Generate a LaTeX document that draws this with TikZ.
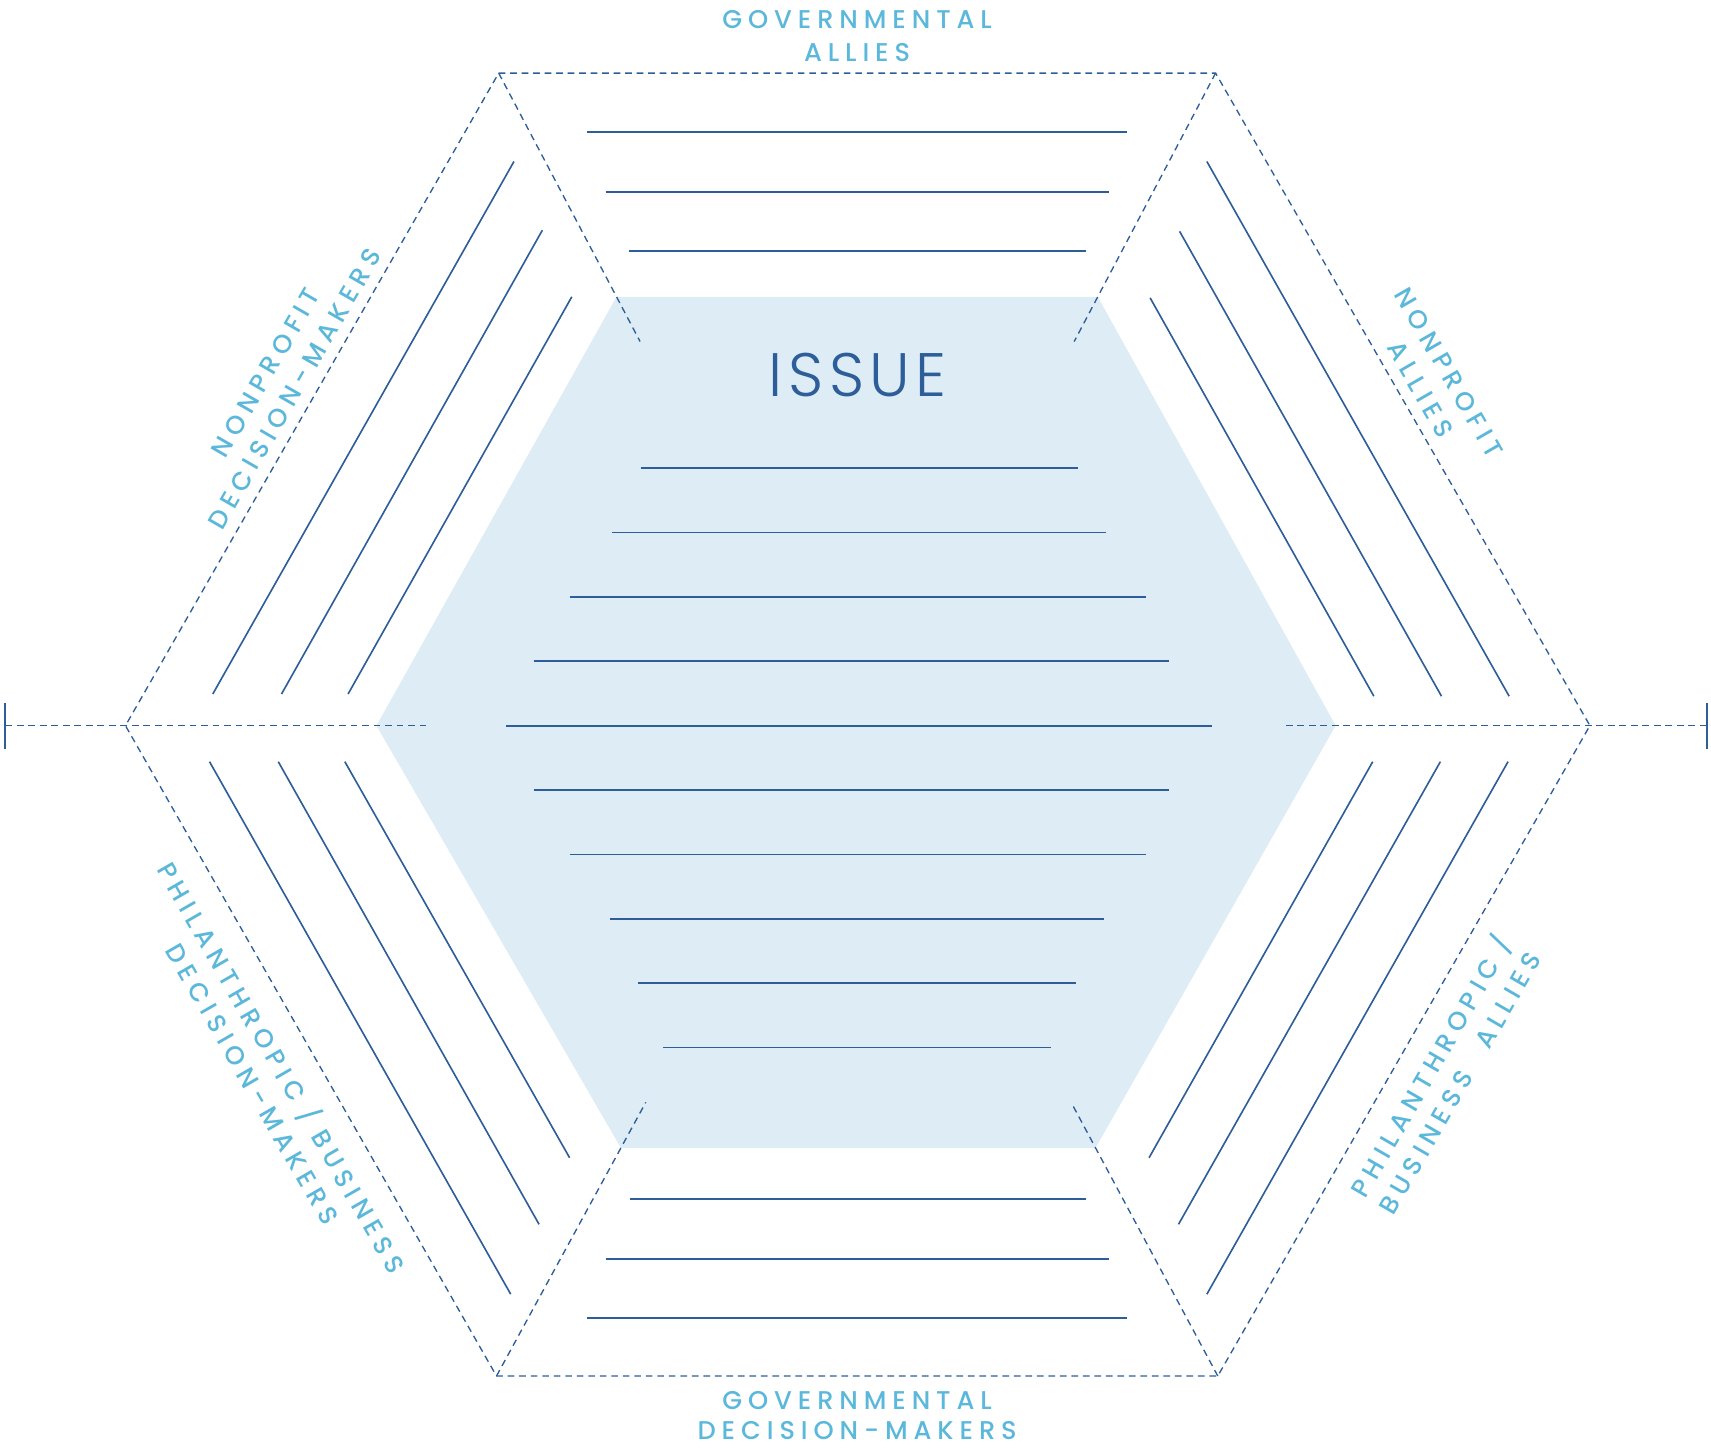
\documentclass[tikz,border=0pt]{standalone}
\usepackage{fontspec}
\usepackage{xcolor}
\usepackage{tikz}
\usetikzlibrary{calc}

\newfontfamily\groupfont{Poppins Medium}[LetterSpace=23]
\newfontfamily\issuefont{Poppins Light}[LetterSpace=9]
\definecolor{darkblue}{HTML}{2E5E9A}
\definecolor{labelblue}{HTML}{5BB8DA}
\definecolor{paleblue}{HTML}{DDECF5}

\begin{document}
\begin{tikzpicture}[x=0.02cm, y=-0.02cm,
    dashline/.style={darkblue, line width=0.7pt, dash pattern=on 3.5pt off 2.5pt},
    rule/.style={darkblue, line width=0.85pt},
    group/.style={text=labelblue, font=\groupfont\fontsize{13.4}{17.2}\selectfont, align=center, inner sep=5.7pt}]

    \useasboundingbox (0,0) rectangle (1568,1327);

    % outer and inner hexagon
    \coordinate (o1) at (457,67);   \coordinate (o2) at (1114,67);
    \coordinate (o3) at (1457,665); \coordinate (o4) at (1116,1261);
    \coordinate (o5) at (455,1261); \coordinate (o6) at (115,665);
    \coordinate (i1) at (565,272);  \coordinate (i2) at (1006,272);
    \coordinate (i3) at (1224,665); \coordinate (i4) at (1004,1052);
    \coordinate (i5) at (569,1052); \coordinate (i6) at (345,665);
    \coordinate (tl) at (5,665);    \coordinate (tr) at (1564,665);

    \fill[paleblue] (i1) -- (i2) -- (i3) -- (i4) -- (i5) -- (i6) -- cycle;

    \draw[dashline] (o1) -- (o2) -- (o3) -- (o4) -- (o5) -- (o6) -- cycle;
    \draw[dashline] (o1) -- ($(o1)!1.2!(i1)$);
    \draw[dashline] (o2) -- ($(o2)!1.2!(i2)$);
    \draw[dashline] (o4) -- ($(o4)!1.2!(i4)$);
    \draw[dashline] (o5) -- ($(o5)!1.2!(i5)$);
    \draw[dashline] (tl) -- ($(o6)!1.2!(i6)$);
    \draw[dashline] (tr) -- ($(o3)!1.2!(i3)$);
    \draw[rule, line width=1pt] (5,644) -- (5,686) (1564,644) -- (1564,686);

    % lines top and bottom
    \draw[rule] (538,121) -- (1033,121) (555,176) -- (1016,176) (576,230) -- (995,230);
    \draw[rule] (577,1099) -- (995,1099) (555,1154) -- (1016,1154) (538,1208) -- (1033,1208);

    % lines in the issue
    \draw[rule] (587,429) -- (988,429) (561,488) -- (1014,488) (522,547) -- (1050,547)
        (489,606) -- (1071,606) (464,665.4) -- (1111,665.4) (489,724) -- (1071,724)
        (522,783) -- (1050,783) (559,842) -- (1012,842) (585,901) -- (986,901)
        (608,960) -- (963,960);

    % lines on the slanted sides
    \draw[rule] (195,636) -- (471,148) (258,636) -- (497,211) (319,636) -- (524,272);
    \draw[rule] (1383,638) -- (1106,148) (1321,638) -- (1081,212) (1259,638) -- (1054,273);
    \draw[rule] (192,698) -- (468,1186) (255,698) -- (494,1122) (316,698) -- (522,1061);
    \draw[rule] (1382,698) -- (1106,1186) (1320,698) -- (1080,1122) (1258,698) -- (1053,1061);

    \node[text=darkblue, font=\issuefont\fontsize{32}{38}\selectfont, inner sep=0pt] (issue) at (786,344) {ISSUE};

    \node[group, anchor=south] (govallies) at ($(o1)!0.5!(o2)$) {GOVERNMENTAL\\ALLIES};
    \node[group, anchor=north, inner sep=8pt, font=\groupfont\fontsize{13.4}{15.6}\selectfont] (govdm) at ($(o5)!0.5!(o4)$) {GOVERNMENTAL\\DECISION-MAKERS};
    \node[group, anchor=south, rotate=60] (npdm) at ($(o6)!0.5!(o1)$) {NONPROFIT\\DECISION-MAKERS};
    \node[group, anchor=south, rotate=-60] (npallies) at ($(o2)!0.5!(o3)$) {NONPROFIT\\ALLIES};
    \node[group, anchor=north, rotate=-60, inner sep=9.9pt] (pbdm) at ($(o6)!0.5!(o5)$) {PHILANTHROPIC / BUSINESS\\DECISION-MAKERS};
    \node[group, anchor=north, rotate=60, inner sep=8.6pt] (pballies) at ($(o4)!0.5!(o3)$) {PHILANTHROPIC /\\BUSINESS\hspace{16pt}ALLIES};
\end{tikzpicture}
\end{document}
